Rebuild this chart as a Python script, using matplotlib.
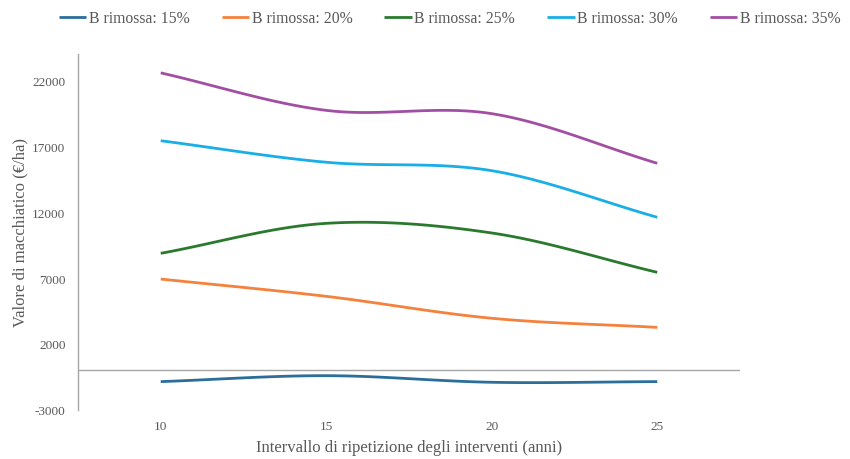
import numpy as np
import matplotlib
matplotlib.use("Agg")
import matplotlib.pyplot as plt

years = [10, 15, 20, 25]
series_labels = ["B rimossa: 15%", "B rimossa: 20%", "B rimossa: 25%", "B rimossa: 30%", "B rimossa: 35%"]
b15 = [-850, -400, -900, -850]
b20 = [6920, 5610, 3950, 3260]
b25 = [8870, 11140, 10410, 7430]
b30 = [17400, 15770, 15130, 11600]
b35 = [22540, 19700, 19450, 15690]
yticks = [-3000, 2000, 7000, 12000, 17000, 22000]
colors = ["#2B6E9B", "#F4823C", "#2A7A2E", "#19AEE6", "#A24EA3"]


def smooth(x, y, n=40):
    # Catmull-Rom (Excel-like smoothed line) through the data points
    x = np.asarray(x, float)
    y = np.asarray(y, float)
    px = np.concatenate([[2 * x[0] - x[1]], x, [2 * x[-1] - x[-2]]])
    py = np.concatenate([[2 * y[0] - y[1]], y, [2 * y[-1] - y[-2]]])
    xs, ys = [], []
    for i in range(1, len(px) - 2):
        t = np.linspace(0, 1, n)
        p0x, p1x, p2x, p3x = px[i - 1:i + 3]
        p0y, p1y, p2y, p3y = py[i - 1:i + 3]
        c1x, c1y = p1x + (p2x - p0x) / 6, p1y + (p2y - p0y) / 6
        c2x, c2y = p2x - (p3x - p1x) / 6, p2y - (p3y - p1y) / 6
        bx = (1 - t) ** 3 * p1x + 3 * (1 - t) ** 2 * t * c1x + 3 * (1 - t) * t ** 2 * c2x + t ** 3 * p2x
        by = (1 - t) ** 3 * p1y + 3 * (1 - t) ** 2 * t * c1y + 3 * (1 - t) * t ** 2 * c2y + t ** 3 * p2y
        xs.append(bx)
        ys.append(by)
    return np.concatenate(xs), np.concatenate(ys)


fig = plt.figure(figsize=(8.5, 4.6), dpi=100)
ax = fig.add_axes([78 / 850, 1 - 411 / 460, (740 - 78) / 850, (411 - 54.6) / 460])

serif = "Liberation Serif"
gray = "#595959"

for vals, lab, col in zip([b15, b20, b25, b30, b35], series_labels, colors):
    sx, sy = smooth(years, vals)
    ax.plot(sx, sy, color=col, lw=2.0, label=lab, solid_capstyle="butt")

ax.axhline(0, color="#A6A6A6", lw=1.0, zorder=0)
ax.set_xlim(7.5, 27.5)
ax.set_ylim(-3000, 24000)
ax.set_xticks(years)
ax.set_xticklabels([str(v) for v in years], fontfamily=serif, fontsize=9.5, color=gray)
ax.set_yticks(yticks)
ax.set_yticklabels([str(v) for v in yticks], fontfamily=serif, fontsize=9.5, color=gray)
ax.tick_params(axis="y", length=0, pad=9)
ax.tick_params(axis="x", length=0, pad=7)
for s in ["top", "right", "bottom"]:
    ax.spines[s].set_visible(False)
ax.spines["left"].set_color("#A6A6A6")
ax.spines["left"].set_linewidth(1.0)

ax.set_xlabel("Intervallo di ripetizione degli interventi (anni)", fontfamily=serif,
              fontsize=12, color=gray, labelpad=5)
ax.set_ylabel("Valore di macchiatico (€/ha)", fontfamily=serif, fontsize=12, color=gray, labelpad=3)

leg = fig.legend(loc="upper left", bbox_to_anchor=(48 / 850, 0.999), ncol=5, frameon=False,
                 prop={"family": serif, "size": 11.3}, handlelength=1.75, handletextpad=0.15,
                 columnspacing=2.05, borderaxespad=0.3)
for t in leg.get_texts():
    t.set_color(gray)

fig.savefig("out.png", dpi=100)
